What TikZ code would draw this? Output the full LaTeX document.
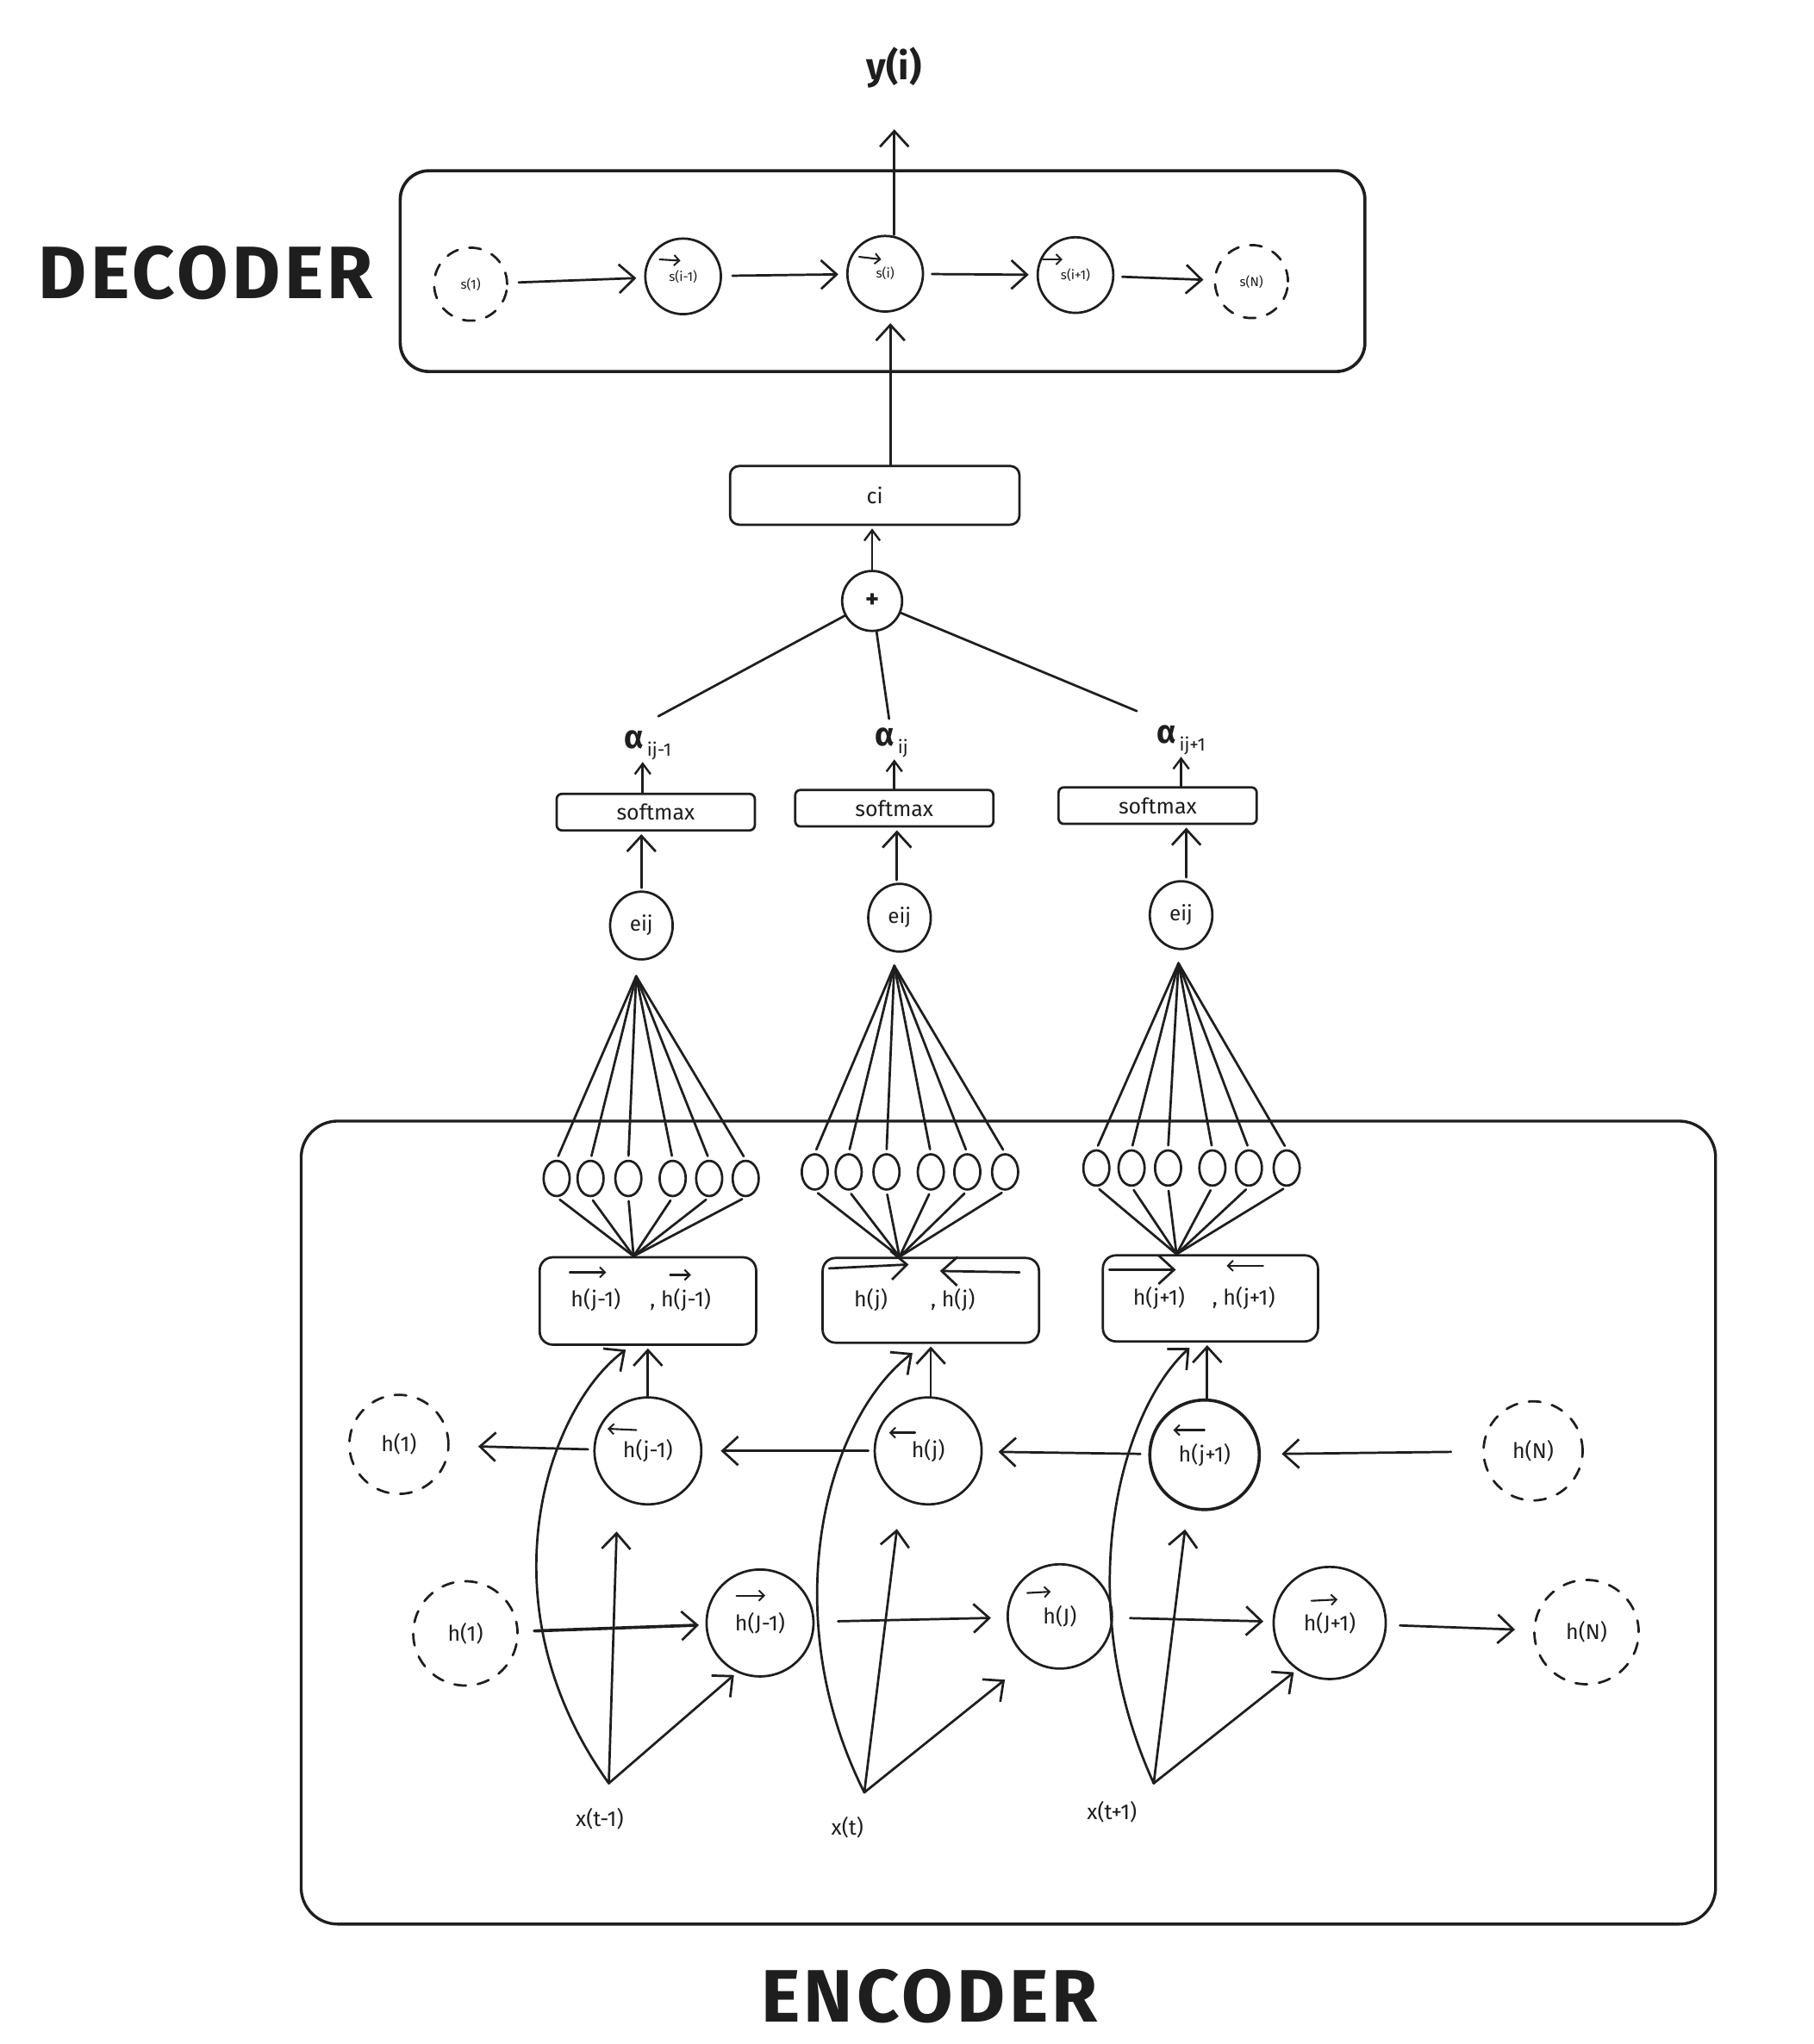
\documentclass[tikz,border=0pt]{standalone}
\usepackage{fontspec}
\setmainfont{Fira Sans}
\usetikzlibrary{arrows.meta,shapes.geometric}
\definecolor{inkc}{HTML}{1E1E1E}
\begin{document}
\begin{tikzpicture}[x=1pt,y=-1pt,line cap=round,line join=round,
  every node/.style={text=inkc},
  ln/.style={draw=inkc,line width=1.8pt},
  arr/.style={ln,-{Straight Barb[length=12pt,width=22pt,line width=1.8pt]}},
  sarr/.style={ln,-{Straight Barb[length=8pt,width=12pt,line width=1.6pt]}},
  varr/.style={draw=inkc,line width=1.4pt,-{Straight Barb[length=4pt,width=8pt,line width=1.3pt]}},
  state/.style={circle,draw=inkc,line width=1.8pt,inner sep=0pt},
  dstate/.style={state,dash pattern=on 9pt off 9pt},
  rbox/.style={rectangle,draw=inkc,line width=1.8pt,inner sep=0pt},
  tiny/.style={ellipse,draw=inkc,line width=1.8pt,minimum width=20pt,minimum height=27pt,inner sep=0pt},
  eijs/.style={ellipse,draw=inkc,line width=1.8pt,minimum width=48pt,minimum height=52pt,inner sep=0pt,font=\fontsize{16}{18}\selectfont},
  slbl/.style={font=\fontsize{10}{12}\selectfont},
  hlbl/.style={font=\fontsize{16.5}{18}\selectfont},
  title/.style={inner sep=0pt,font=\fontsize{57}{60}\selectfont\bfseries\addfontfeature{LetterSpace=5}},
  alab/.style={font=\fontsize{15}{17}\selectfont,inner sep=1pt}
]
\useasboundingbox (0,0) rectangle (1391,1568);
\fill[white] (0,0) rectangle (1391,1568);

% ================= DECODER =================
\node[rbox,rounded corners=22pt,minimum width=740pt,minimum height=154pt,line width=2.4pt] (dec) at (677,208) {};
\node[title,anchor=base] (dect) at (158,229) {DECODER};
\node[font=\fontsize{29}{30}\selectfont\bfseries] (y) at (686,52) {y(i)};

\node[dstate,minimum size=56pt,slbl] (s1) at (361,218) {s(1)};
\node[state,minimum size=58pt,slbl] (si1) at (524,212) {s(i-1)};
\node[state,minimum size=58pt,slbl] (si) at (679,210) {s(i)};
\node[state,minimum size=58pt,slbl] (si2) at (825,211) {s(i+1)};
\node[dstate,minimum size=56pt,slbl] (sN) at (960,216) {s(N)};

\draw[varr] ([shift={(-18,-13)}]si1.center) -- ++(16,1);
\draw[varr] ([shift={(-20,-13)}]si.center) -- ++(17,2);
\draw[varr] ([shift={(-25,-12)}]si2.center) -- ++(15,0);

\draw[arr,shorten <=8pt,shorten >=6pt] (s1) -- (si1);
\draw[arr,shorten <=8pt,shorten >=6pt] (si1) -- (si);
\draw[arr,shorten <=6pt,shorten >=6pt] (si) -- (si2);
\draw[arr,shorten <=6pt,shorten >=8pt] (si2) -- (sN);
\draw[arr,shorten >=28pt] (si.north -| y) -- (y.south);

% ================= ATTENTION =================
\node[rbox,rounded corners=7pt,minimum width=222pt,minimum height=45pt,hlbl] (ci) at (671,380) {ci};
\draw[arr,shorten >=8pt] ([xshift=12pt]ci.north) -- ([xshift=4pt]si.south);

\node[state,minimum size=46pt,font=\fontsize{20}{20}\selectfont\bfseries] (plus) at (669,461) {+};
\draw[sarr,shorten >=2pt] (plus.north) -- (plus.north |- ci.south);

\node[alab] (a1) at (497,572) {\fontsize{25}{25}\selectfont\bfseries α\raisebox{-6pt}{\fontsize{14}{14}\selectfont\mdseries\,ij-1}};
\node[alab] (a2) at (684,570) {\fontsize{25}{25}\selectfont\bfseries α\raisebox{-6pt}{\fontsize{14}{14}\selectfont\mdseries\,ij}};
\node[alab] (a3) at (906,568) {\fontsize{25}{25}\selectfont\bfseries α\raisebox{-6pt}{\fontsize{14}{14}\selectfont\mdseries\,ij+1}};

\draw[ln] (plus) -- ([shift={(8,-10)}]a1.north);
\draw[ln] (plus) -- ([shift={(-2,-6)}]a2.north);
\draw[ln] (plus) -- ([shift={(-34,-10)}]a3.north);

\node[rbox,rounded corners=4pt,minimum width=152pt,minimum height=28pt,hlbl] (sm1) at (503,623) {softmax};
\node[rbox,rounded corners=4pt,minimum width=152pt,minimum height=28pt,hlbl] (sm2) at (686,620) {softmax};
\node[rbox,rounded corners=4pt,minimum width=152pt,minimum height=28pt,hlbl] (sm3) at (888,618) {softmax};

\draw[sarr] ([xshift=-10pt]sm1.north) -- ([xshift=-4pt]a1.south);
\draw[sarr] (sm2.north) -- ([xshift=2pt]a2.south);
\draw[sarr] ([xshift=18pt]sm3.north) -- ([xshift=0pt]a3.south);

\node[eijs] (e1) at (492,710) {eij};
\node[eijs] (e2) at (690,704) {eij};
\node[eijs] (e3) at (906,702) {eij};

\draw[arr,shorten <=2pt,shorten >=2pt] (e1.north) -- (e1.north |- sm1.south);
\draw[arr,shorten <=2pt,shorten >=2pt] ([xshift=-2pt]e2.north) -- ([xshift=-2pt]e2.north |- sm2.south);
\draw[arr,shorten <=2pt,shorten >=2pt] ([xshift=4pt]e3.north) -- ([xshift=4pt]e3.north |- sm3.south);

% ================= ENCODER =================
\node[rbox,rounded corners=28pt,minimum width=1085pt,minimum height=616pt,line width=2.2pt] (enc) at (773.5,1168) {};
\node[title,anchor=base] (enct) at (713,1551) {ENCODER};

% annotation boxes
\node[rbox,rounded corners=10pt,minimum width=166pt,minimum height=67pt] (hc1) at (497,998) {};
\node[rbox,rounded corners=10pt,minimum width=166pt,minimum height=65pt] (hc2) at (714,997.5) {};
\node[rbox,rounded corners=10pt,minimum width=165pt,minimum height=66pt] (hc3) at (928.5,996) {};

\node[hlbl] (hc1a) at (457,997) {h(j-1)};
\node[hlbl] (hc1b) at (522,997) {, h(j-1)};
\node[hlbl] (hc2a) at (668,997) {h(j)};
\node[hlbl] (hc2b) at (731,997) {, h(j)};
\node[hlbl] (hc3a) at (889,996) {h(j+1)};
\node[hlbl] (hc3b) at (954,996) {, h(j+1)};

\draw[varr] ([shift={(-20,-21)}]hc1a.center) -- ++(28,0);
\draw[varr] ([shift={(-8,-19)}]hc1b.center) -- ++(16,0);
\draw[arr] ([shift={(-32,-24)}]hc2a.center) -- ++(61,-3);
\draw[arr] ([shift={(51,-21)}]hc2b.center) -- ++(-61,-1);
\draw[arr] ([shift={(-38,-22)}]hc3a.center) -- ++(51,0);
\draw[varr] ([shift={(15,-25)}]hc3b.center) -- ++(-28,0);

% small ellipses and fans
\foreach \i/\x in {1/427,2/453,3/482,4/516,5/544,6/572}{
  \node[tiny] (ta\i) at (\x,904) {};
}
\foreach \i/\x in {1/625,2/651,3/680,4/714,5/742,6/771}{
  \node[tiny] (tb\i) at (\x,899) {};
}
\foreach \i/\x in {1/841,2/868,3/896,4/930,5/958,6/987}{
  \node[tiny] (tc\i) at (\x,896) {};
}
\coordinate (f1) at ([shift={(-4,12)}]e1.south);
\coordinate (f2) at ([shift={(-4,10)}]e2.south);
\coordinate (f3) at ([shift={(-2,10)}]e3.south);
\coordinate (g1) at ([xshift=-11pt]hc1.north);
\coordinate (g2) at ([xshift=-24pt]hc2.north);
\coordinate (g3) at ([xshift=-26pt]hc3.north);
\foreach \i in {1,...,6}{
  \draw[ln,shorten >=3pt] (f1) -- (ta\i.north);
  \draw[ln,shorten <=3pt] (ta\i.south) -- (g1);
  \draw[ln,shorten >=3pt] (f2) -- (tb\i.north);
  \draw[ln,shorten <=3pt] (tb\i.south) -- (g2);
  \draw[ln,shorten >=3pt] (f3) -- (tc\i.north);
  \draw[ln,shorten <=3pt] (tc\i.south) -- (g3);
}

% backward RNN
\node[dstate,minimum size=76pt,hlbl] (hb0) at (306,1108) {h(1)};
\node[state,minimum size=82pt,hlbl] (hb1) at (497,1113) {h(j-1)};
\node[state,minimum size=82pt,hlbl] (hb2) at (712,1113) {h(j)};
\node[state,minimum size=84pt,hlbl,line width=2.4pt] (hb3) at (924,1116) {h(j+1)};
\node[dstate,minimum size=76pt,hlbl] (hbN) at (1176,1113) {h(N)};

\draw[varr] ([shift={(-9,-16)}]hb1.center) -- ++(-22,-1);
\draw[varr] ([shift={(-10,-14)}]hb2.center) -- ++(-20,0);
\draw[varr] ([shift={(0,-19)}]hb3.center) -- ++(-24,0);

\draw[arr,shorten <=4pt,shorten >=22pt] (hb1) -- (hb0);
\draw[arr,shorten <=4pt,shorten >=14pt] (hb2) -- (hb1);
\draw[arr,shorten <=6pt,shorten >=12pt] (hb3) -- (hb2);
\draw[arr,shorten <=24pt,shorten >=16pt] (hbN) -- (hb3);

\draw[arr,shorten >=2pt] (hb1.north) -- (hb1.north |- hc1.south);
\draw[arr,shorten >=2pt] ([xshift=2pt]hb2.north) -- ([xshift=2pt]hb2.north |- hc2.south);
\draw[arr,shorten >=2pt] ([xshift=2pt]hb3.north) -- ([xshift=2pt]hb3.north |- hc3.south);

% forward RNN
\node[dstate,minimum size=80pt,hlbl] (hf0) at (357,1253) {h(1)};
\node[state,minimum size=82pt,hlbl] (hf1) at (583,1245) {h(J-1)};
\node[state,minimum size=80pt,hlbl] (hf2) at (813,1240) {h(J)};
\node[state,minimum size=86pt,hlbl] (hf3) at (1020,1245) {h(J+1)};
\node[dstate,minimum size=80pt,hlbl] (hfN) at (1217,1252) {h(N)};

\draw[varr] ([shift={(-18,-21)}]hf1.center) -- ++(22,0);
\draw[varr] ([shift={(-25,-18)}]hf2.center) -- ++(18,-1);
\draw[varr] ([shift={(-14,-17)}]hf3.center) -- ++(20,-1);

\draw[arr,shorten <=12pt,shorten >=5pt,line width=2.4pt] (hf0) -- (hf1);
\draw[arr,shorten <=18pt,shorten >=12pt] (hf1) -- (hf2);
\draw[arr,shorten <=13pt,shorten >=7pt] (hf2) -- (hf3);
\draw[arr,shorten <=10pt,shorten >=14pt] (hf3) -- (hfN);

% inputs
\node[hlbl] (x1) at (460,1395) {x(t-1)};
\node[hlbl] (x2) at (650,1402) {x(t)};
\node[hlbl] (x3) at (853,1390) {x(t+1)};
\coordinate (xp1) at (467,1368);
\coordinate (xp2) at (663,1375);
\coordinate (xp3) at (885,1368);

\draw[arr] (xp1) -- ([shift={(-24,20)}]hb1.south);
\draw[arr] (xp2) -- ([shift={(-24,18)}]hb2.south);
\draw[arr] (xp3) -- ([shift={(-15,14)}]hb3.south);

\draw[arr,shorten >=3pt] (xp1) -- (hf1.245);
\draw[arr,shorten >=24pt] (xp2) -- (hf2.235);
\draw[arr,shorten >=3pt] (xp3) -- (hf3.235);

\draw[arr] (xp1) .. controls (368,1230) and (420,1080) .. ([xshift=-17pt,yshift=-3pt]hc1.south);
\draw[arr] (xp2) .. controls (595,1240) and (632,1090) .. ([xshift=-14pt,yshift=-7pt]hc2.south);
\draw[arr] (xp3) .. controls (822,1230) and (857,1085) .. ([xshift=-16pt,yshift=-4pt]hc3.south);

\end{tikzpicture}
\end{document}
